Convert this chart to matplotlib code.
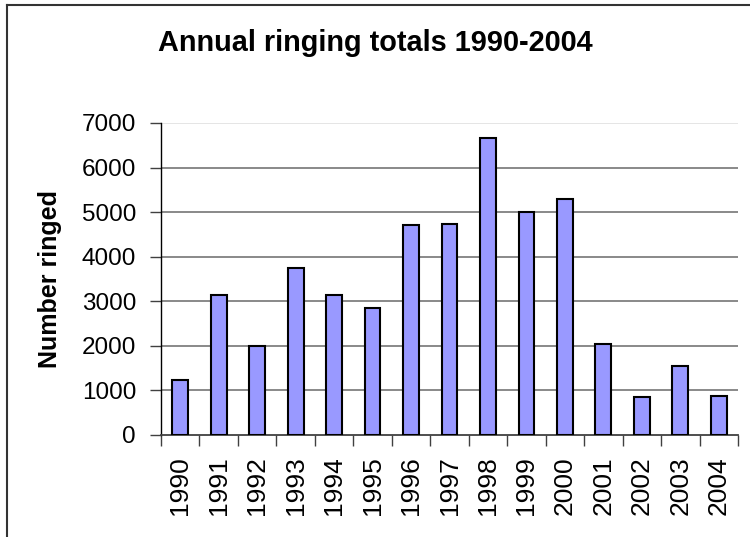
import numpy as np
import matplotlib.pyplot as plt
from matplotlib.lines import Line2D

plt.rcParams['font.family'] = ['Liberation Sans', 'DejaVu Sans']

# Annual totals
years = ['1990', '1991', '1992', '1993', '1994', '1995', '1996', '1997',
         '1998', '1999', '2000', '2001', '2002', '2003', '2004']
totals = [1240, 3140, 2000, 3740, 3140, 2840, 4710, 4740,
          6660, 5010, 5290, 2030, 850, 1550, 870]
yticks = [0, 1000, 2000, 3000, 4000, 5000, 6000, 7000]

fig = plt.figure(figsize=(7.5, 5.37), dpi=100)
ax = fig.add_axes([0.2147, 0.19, 0.984 - 0.2147, 0.771 - 0.19])

x = np.arange(len(years))
ax.bar(x, totals, width=0.41, color='#9999ff', edgecolor='black',
       linewidth=1.5, zorder=3)

ax.set_xlim(-0.5, len(years) - 0.5)
ax.set_ylim(0, 7000)
ax.set_yticks(yticks)
ax.set_yticklabels([str(v) for v in yticks], fontsize=17.5)

# gridlines (top one is lighter, like the plot area edge)
for v in yticks[1:-1]:
    ax.axhline(v, color='#808080', lw=1.3, zorder=1)
ax.axhline(7000, color='#e0e0e0', lw=1.2, zorder=1)

# category labels, ticks at the boundaries
ax.set_xticks(x)
ax.set_xticklabels(years, rotation=90, fontsize=19)
ax.tick_params(axis='x', which='major', length=0, pad=15.5)
ax.set_xticks(np.arange(-0.5, len(years)), minor=True)
ax.tick_params(axis='x', which='minor', length=8, width=1, color='#404040')
ax.tick_params(axis='y', length=8, width=1, color='#404040', pad=10)

for s in ['top', 'right']:
    ax.spines[s].set_visible(False)
ax.spines['left'].set_color('black')
ax.spines['left'].set_linewidth(1)
ax.spines['bottom'].set_color('#404040')
ax.spines['bottom'].set_linewidth(1.3)

ax.set_ylabel('Number ringed', fontsize=18, fontweight='bold')
ax.yaxis.set_label_coords(-0.1716, 0.5)

fig.text(0.5, 0.92, 'Annual ringing totals 1990-2004', ha='center',
         va='center', fontsize=20.8, fontweight='bold')

# chart border: only the left and top edges are inside the picture
fig.add_artist(Line2D([0.0093, 0.0093], [0, 0.9907], transform=fig.transFigure,
                      color='#333333', lw=1.5))
fig.add_artist(Line2D([0.0093, 1], [0.9907, 0.9907], transform=fig.transFigure,
                      color='#333333', lw=1.5))

fig.savefig('out.png', dpi=100)
